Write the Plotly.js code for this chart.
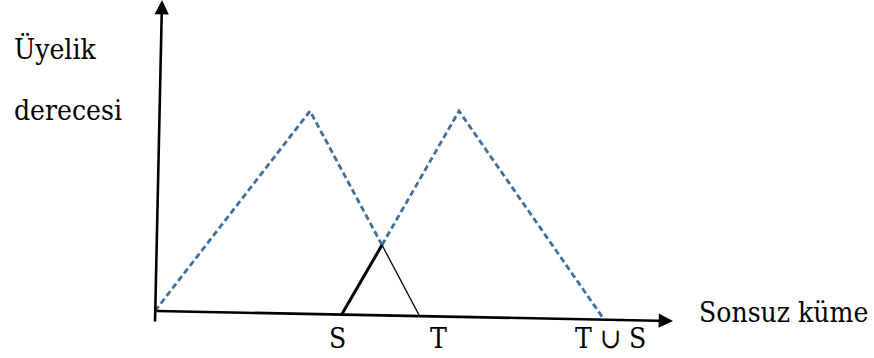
<!DOCTYPE html>
<html>
<head>
<meta charset="utf-8">
<script src="https://cdn.plot.ly/plotly-3.0.1.min.js"></script>
<style>
  html, body { margin: 0; padding: 0; background: #ffffff; }
  #chart { width: 874px; height: 358px; }
</style>
</head>
<body>
<div id="chart"></div>
<script>
// Universe of discourse (x) and membership degree (y) for the two fuzzy sets.
// First fuzzy set: rises from the origin to its peak, dashed down to the crossing point.
const setAx = [0, 3.1, 4.54];
const setAy = [0, 1, 0.33];

// Second fuzzy set: dashed from the crossing point up to its peak and down to the axis.
const setBx = [4.54, 6.08, 8.96];
const setBy = [0.33, 1, -0.035];

// Bold edge: the rising side of the second set from S up to the crossing point.
const boldEdgeX = [3.74, 4.54];
const boldEdgeY = [-0.015, 0.33];

// Thin edge: the falling side of the first set from the crossing point down to T.
const thinEdgeX = [4.54, 5.28];
const thinEdgeY = [0.33, -0.02];

// Axis lines (tail -> arrow tip).
const xAxisTail = [0, 0];
const xAxisTip = [10.36, -0.05];
const yAxisTail = [0, -0.06];
const yAxisTip = [0.14, 1.555];

// Labels under the horizontal axis.
const pointLabels = ['S', 'T', 'T \u222A S'];
const pointLabelX = [3.65, 5.66, 9.1];

const axisNameX = 'Sonsuz küme';
const axisNameY = ['Üyelik', 'derecesi'];

const serif = 'DejaVu Serif Condensed, DejaVu Serif, serif';
const dashedBlue = '#3f6f9d';

const traces = [
  {
    x: setAx, y: setAy, mode: 'lines', type: 'scatter', hoverinfo: 'skip',
    line: { color: dashedBlue, width: 2.8, dash: '6px,3.5px' }
  },
  {
    x: setBx, y: setBy, mode: 'lines', type: 'scatter', hoverinfo: 'skip',
    line: { color: dashedBlue, width: 2.8, dash: '6px,3.5px' }
  },
  {
    x: boldEdgeX, y: boldEdgeY, mode: 'lines', type: 'scatter', hoverinfo: 'skip',
    line: { color: '#000000', width: 3 }
  },
  {
    x: thinEdgeX, y: thinEdgeY, mode: 'lines', type: 'scatter', hoverinfo: 'skip',
    line: { color: '#000000', width: 1.3 }
  }
];

const annotations = [
  // horizontal axis with arrow
  {
    x: xAxisTip[0], y: xAxisTip[1], ax: xAxisTail[0], ay: xAxisTail[1],
    xref: 'x', yref: 'y', axref: 'x', ayref: 'y',
    text: '', showarrow: true, arrowhead: 2, arrowsize: 1.1, arrowwidth: 2.6,
    arrowcolor: '#000000', standoff: 0, startstandoff: 0
  },
  // vertical axis with arrow
  {
    x: yAxisTip[0], y: yAxisTip[1], ax: yAxisTail[0], ay: yAxisTail[1],
    xref: 'x', yref: 'y', axref: 'x', ayref: 'y',
    text: '', showarrow: true, arrowhead: 2, arrowsize: 1.1, arrowwidth: 2.6,
    arrowcolor: '#000000', standoff: 0, startstandoff: 0
  }
];

pointLabels.forEach((t, i) => {
  annotations.push({
    x: pointLabelX[i], y: -0.135, xref: 'x', yref: 'y',
    text: t, showarrow: false, xanchor: 'center', yanchor: 'middle',
    font: { family: serif, size: 28, color: '#000000' }
  });
});

annotations.push({
  x: 697, y: 312, xref: 'paper', yref: 'paper',
  text: axisNameX, showarrow: false, xanchor: 'left', yanchor: 'middle',
  font: { family: serif, size: 28, color: '#000000' }
});

axisNameY.forEach((t, i) => {
  annotations.push({
    x: 12, y: [49, 111][i], xref: 'paper', yref: 'paper',
    text: t, showarrow: false, xanchor: 'left', yanchor: 'middle',
    font: { family: serif, size: 28, color: '#000000' }
  });
});

// Pixel-positioned labels are converted to paper fractions.
const W = 874, H = 358;
annotations.forEach(a => {
  if (a.xref === 'paper') {
    a.x = a.x / W;
    a.y = 1 - a.y / H;
  }
});

const layout = {
  width: W, height: H,
  margin: { l: 0, r: 0, t: 0, b: 0, pad: 0 },
  paper_bgcolor: '#ffffff', plot_bgcolor: '#ffffff',
  showlegend: false,
  xaxis: { range: [-3.1, 14.38], visible: false, fixedrange: true },
  yaxis: { range: [-0.235, 1.555], visible: false, fixedrange: true },
  annotations: annotations
};

Plotly.newPlot('chart', traces, layout, { displayModeBar: false, staticPlot: true });
</script>
</body>
</html>
